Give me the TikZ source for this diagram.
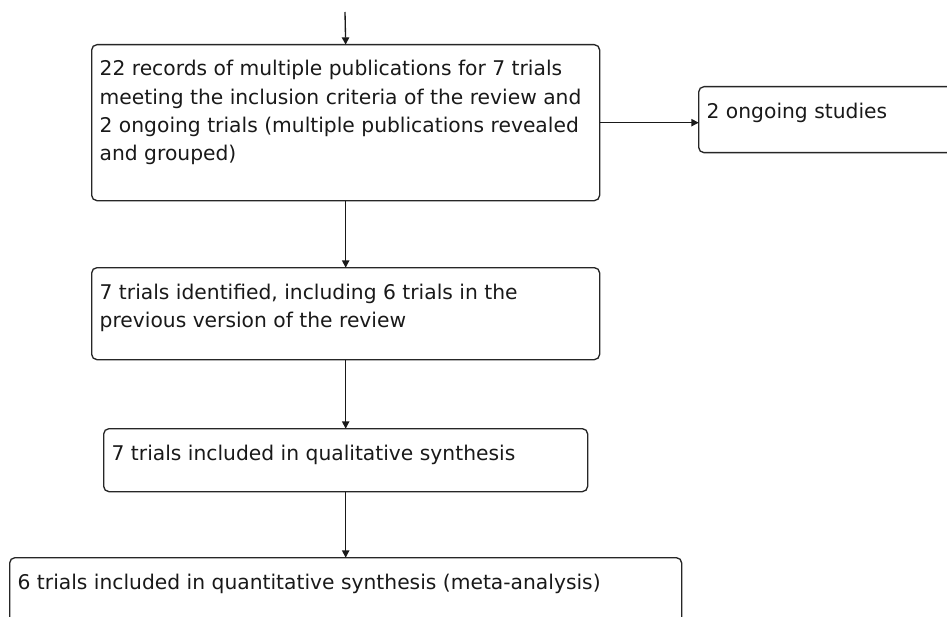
\documentclass[tikz,border=0pt]{standalone}
\usepackage{fontspec}
\setmainfont{DejaVu Sans}
\usetikzlibrary{arrows.meta}
\newcommand\boxtext[3]{\parbox[c][#2][t]{#1}{\raggedright\leftskip=6pt\rightskip=0pt plus 1fil\fontsize{15.2pt}{21.2pt}\selectfont\rule{0pt}{23.5pt}#3}}
\tikzset{
  flowbox/.style={draw=black!85, line width=1pt, rounded corners=4pt, inner sep=0pt, anchor=north west, text=black!90},
  conn/.style={draw=black!90, line width=1pt, -{Triangle[length=5.5pt,width=5.5pt]}, shorten >=-0.5pt}
}
\begin{document}
\begin{tikzpicture}[x=0.75pt,y=-0.75pt]
\clip (0,0) rectangle (947,617);
\node[flowbox] (b1) at (91,44) {\boxtext{381pt}{117pt}{22 records of multiple publications for 7 trials\\ meeting the inclusion criteria of the review and\\ 2 ongoing trials (multiple publications revealed\\ and grouped)}};
\node[flowbox] (on) at (698,86) {\boxtext{196.5pt}{49.5pt}{2 ongoing studies}};
\node[flowbox] (b2) at (91,267) {\boxtext{381pt}{69pt}{7 trials identified, including 6 trials in the\\ previous version of the review}};
\node[flowbox] (b3) at (103,428) {\boxtext{363pt}{47.25pt}{7 trials included in qualitative synthesis}};
\node[flowbox] (b4) at (9,557) {\boxtext{504pt}{62.25pt}{6 trials included in quantitative synthesis (meta-analysis)}};
\coordinate (top) at (345,12);
\draw[conn] (top) -- (b1.north);
\draw[conn] (b1.east) -- (b1.east -| on.west);
\draw[conn] (b1.south) -- (b2.north);
\draw[conn] (b2.south) -- (b3.north);
\draw[conn] (b3.south) -- (b4.north);
\end{tikzpicture}
\end{document}
